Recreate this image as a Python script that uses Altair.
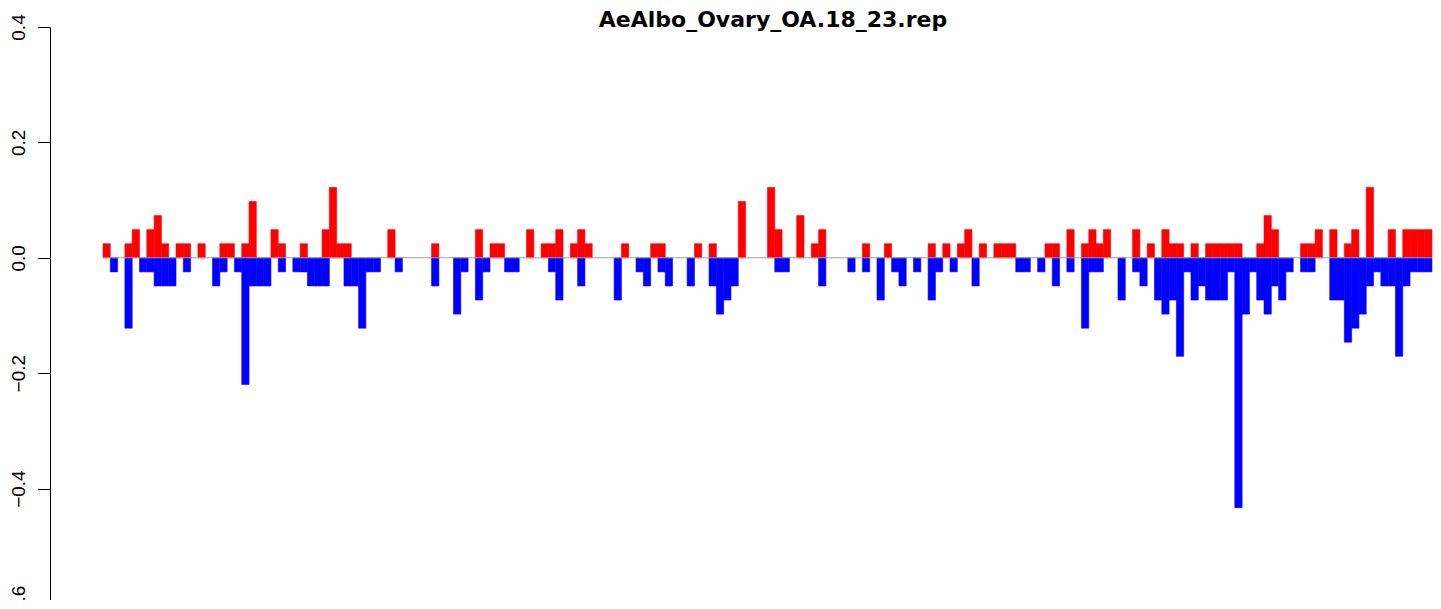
import altair as alt
import pandas as pd

TITLE = "AeAlbo_Ovary_OA.18_23.rep"

# Positive (red) values per window
pos_values = [
    0.0244, 0, 0, 0.0244, 0.0488, 0, 0.0488, 0.0732, 0.0244, 0,
    0.0244, 0.0244, 0, 0.0244, 0, 0, 0.0244, 0.0244, 0, 0.0244,
    0.0976, 0, 0, 0.0488, 0.0244, 0, 0, 0.0244, 0, 0,
    0.0488, 0.122, 0.0244, 0.0244, 0, 0, 0, 0, 0, 0.0488,
    0, 0, 0, 0, 0, 0.0244, 0, 0, 0, 0,
    0, 0.0488, 0, 0.0244, 0.0244, 0, 0, 0, 0.0488, 0,
    0.0244, 0.0244, 0.0488, 0, 0.0244, 0.0488, 0.0244, 0, 0, 0,
    0, 0.0244, 0, 0, 0, 0.0244, 0.0244, 0, 0, 0,
    0, 0.0244, 0, 0.0244, 0, 0, 0, 0.0976, 0, 0,
    0, 0.122, 0.0488, 0, 0, 0.0732, 0, 0.0244, 0.0488, 0,
    0, 0, 0, 0, 0.0244, 0, 0, 0.0244, 0, 0,
    0, 0, 0, 0.0244, 0, 0.0244, 0, 0.0244, 0.0488, 0,
    0.0244, 0, 0.0244, 0.0244, 0.0244, 0, 0, 0, 0, 0.0244,
    0.0244, 0, 0.0488, 0, 0.0244, 0.0488, 0.0244, 0.0488, 0, 0,
    0, 0.0488, 0, 0.0244, 0, 0.0488, 0.0244, 0.0244, 0, 0.0244,
    0, 0.0244, 0.0244, 0.0244, 0.0244, 0.0244, 0, 0, 0.0244, 0.0732,
    0.0488, 0, 0, 0, 0.0244, 0.0244, 0.0488, 0, 0.0488, 0,
    0.0244, 0.0488, 0, 0.122, 0, 0, 0.0488, 0, 0.0488, 0.0488,
    0.0488, 0.0488,
]

# Negative (blue) values per window
neg_values = [
    0, -0.0244, 0, -0.122, 0, -0.0244, -0.0244, -0.0488, -0.0488, -0.0488,
    0, -0.0244, 0, 0, 0, -0.0488, -0.0244, 0, -0.0244, -0.2195,
    -0.0488, -0.0488, -0.0488, 0, -0.0244, 0, -0.0244, -0.0244, -0.0488, -0.0488,
    -0.0488, 0, 0, -0.0488, -0.0488, -0.122, -0.0244, -0.0244, 0, 0,
    -0.0244, 0, 0, 0, 0, -0.0488, 0, 0, -0.0976, -0.0244,
    0, -0.0732, -0.0244, 0, 0, -0.0244, -0.0244, 0, 0, 0,
    0, -0.0244, -0.0732, 0, 0, -0.0488, 0, 0, 0, 0,
    -0.0732, 0, 0, -0.0244, -0.0488, 0, -0.0244, -0.0488, 0, 0,
    -0.0488, 0, 0, -0.0488, -0.0976, -0.0732, -0.0488, 0, 0, 0,
    0, 0, -0.0244, -0.0244, 0, 0, 0, 0, -0.0488, 0,
    0, 0, -0.0244, 0, -0.0244, 0, -0.0732, 0, -0.0244, -0.0488,
    0, -0.0244, 0, -0.0732, -0.0244, 0, -0.0244, 0, 0, -0.0488,
    0, 0, 0, 0, 0, -0.0244, -0.0244, 0, -0.0244, 0,
    -0.0488, 0, -0.0244, 0, -0.122, -0.0244, -0.0244, 0, 0, -0.0732,
    0, -0.0244, -0.0488, 0, -0.0732, -0.0976, -0.0732, -0.1707, -0.0244, -0.0732,
    -0.0488, -0.0732, -0.0732, -0.0732, -0.0244, -0.433, -0.0976, -0.0244, -0.0732, -0.0976,
    -0.0488, -0.0732, -0.0244, 0, -0.0244, -0.0244, 0, 0, -0.0732, -0.0732,
    -0.1463, -0.122, -0.0976, -0.0488, -0.0244, -0.0488, -0.0488, -0.1707, -0.0488, -0.0244,
    -0.0244, -0.0244,
]

y_ticks = [-0.6, -0.4, -0.2, 0.0, 0.2, 0.4]

rows = []
for i, (p, n) in enumerate(zip(pos_values, neg_values)):
    if p != 0:
        rows.append({"i": i, "i2": i + 1, "v": p, "s": "pos"})
    if n != 0:
        rows.append({"i": i, "i2": i + 1, "v": n, "s": "neg"})
df = pd.DataFrame(rows)

n_bins = len(pos_values)
zero_df = pd.DataFrame({"a": [0], "b": [n_bins], "y": [0.0]})

# x scale: bars start 53px right of the axis line, 7.302px per window
step = 7.302
plot_w = 1383
d0 = -53 / step
d1 = d0 + plot_w / step
xscale = alt.Scale(domain=[d0, d1], nice=False, zero=False)
yscale = alt.Scale(domain=[-0.6, 0.4], nice=False, zero=False)

color_scale = alt.Scale(domain=["pos", "neg"], range=["#FF0000", "#0000FF"])

y_axis = alt.Axis(
    values=y_ticks,
    format=".1f",
    labelAngle=270,
    labelAlign="center",
    labelBaseline="alphabetic",
    labelFont="Liberation Sans",
    labelFontSize=19,
    labelColor="black",
    labelPadding=12.7,
    tickSize=12.5,
    tickColor="black",
    tickWidth=1,
    domainColor="black",
    domainWidth=1,
    grid=False,
    title=None,
    labelFlush=False,
    labelOverlap=False,
)

bars = alt.Chart(df).mark_bar(strokeWidth=0.6).encode(
    x=alt.X("i:Q", scale=xscale, axis=None),
    x2="i2:Q",
    y=alt.Y("v:Q", scale=yscale, axis=y_axis),
    y2=alt.datum(0),
    color=alt.Color("s:N", scale=color_scale, legend=None),
    stroke=alt.Stroke("s:N", scale=color_scale, legend=None),
)

zero_line = alt.Chart(zero_df).mark_rule(color="#a0a0a0", strokeWidth=1).encode(
    x=alt.X("a:Q", scale=xscale, axis=None),
    x2="b:Q",
    y=alt.Y("y:Q", scale=yscale, axis=y_axis),
)

chart = (
    alt.layer(bars, zero_line)
    .properties(
        width=plot_w,
        height=577,
        title=alt.Title(
            TITLE,
            font="DejaVu Sans",
            fontSize=22,
            fontWeight="bold",
            color="black",
            anchor="middle",
            frame="group",
            dx=31.5,
            offset=-35.5,
            baseline="alphabetic",
        ),
        view=alt.ViewBackground(stroke="white", strokeOpacity=0, strokeWidth=0),
        autosize=alt.AutoSizeParams(type="none"),
        padding={"left": 42, "top": 19, "right": 0, "bottom": -4},
    )
    .configure_view(stroke="white", strokeOpacity=0, strokeWidth=0)
    .configure_axis(grid=False)
    .configure(background="white")
)

chart.save("out.html", embed_options={"renderer": "svg", "actions": False})
